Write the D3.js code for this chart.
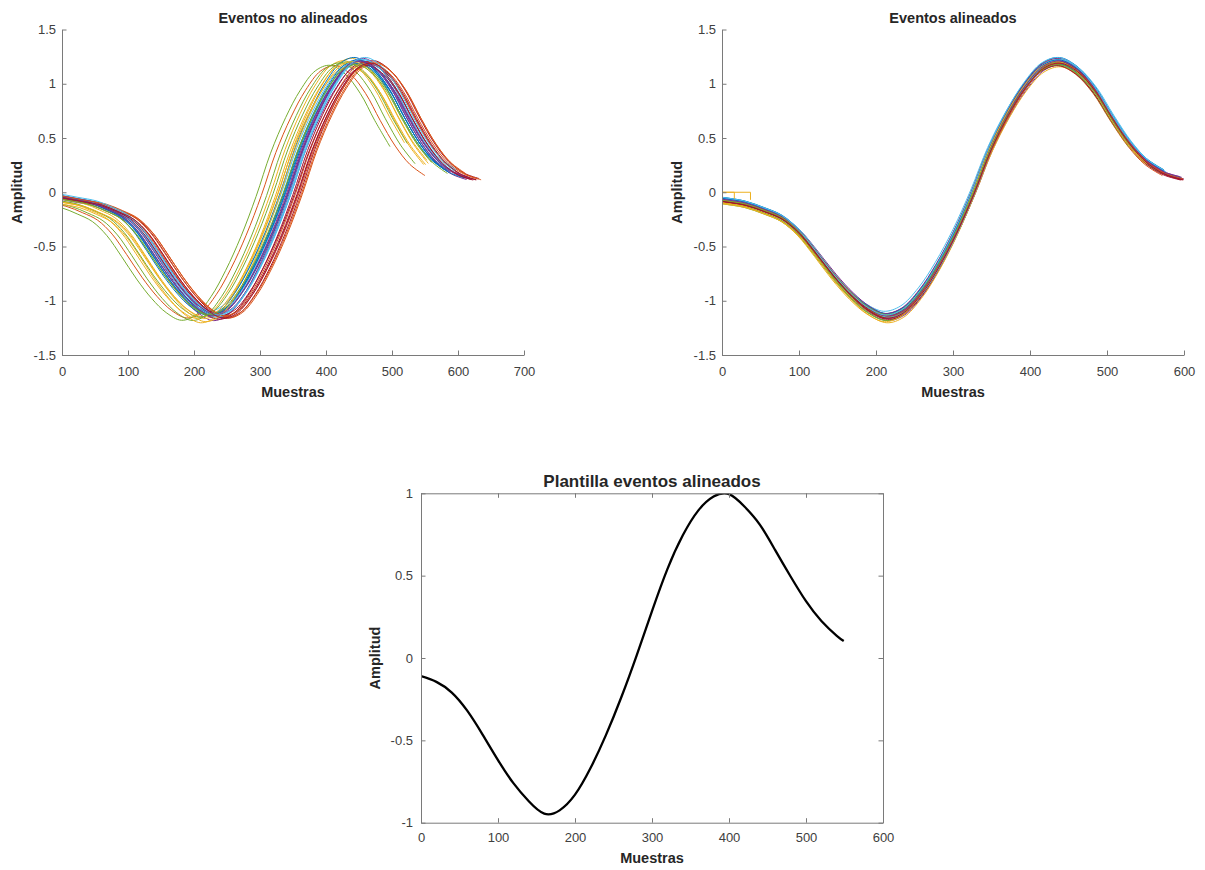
<!DOCTYPE html>
<html>
<head>
<meta charset="utf-8">
<script src="https://cdn.jsdelivr.net/npm/d3@7"></script>
<style>
  html, body { margin: 0; padding: 0; background: #fff; }
  svg { display: block; }
  .tick text { font-family: "Liberation Sans", Arial, sans-serif; font-size: 13px; fill: #404040; }
  .lbl { font-family: "Liberation Sans", Arial, sans-serif; font-weight: bold; fill: #262626; }
</style>
</head>
<body>
<svg id="fig" width="1205" height="870"></svg>
<script>
// ---------- DATA ----------
// Shape of an aligned event read from the "Eventos alineados" panel (samples, amplitude)
const baseX = [-120, -80, -40, 0, 30, 55, 78, 100, 122, 145, 168, 190, 213, 235, 258, 280, 303, 326, 348, 371, 393, 416, 438, 461, 484, 506, 529, 551, 574, 597];
const baseY = [0.02, 0.005, -0.03, -0.075, -0.11, -0.17, -0.24, -0.37, -0.56, -0.77, -0.95, -1.08, -1.15, -1.10, -0.93, -0.69, -0.38, -0.01, 0.39, 0.72, 0.97, 1.15, 1.20, 1.12, 0.94, 0.69, 0.45, 0.28, 0.175, 0.125];

// Per-event parameters read from the "Eventos no alineados" panel
const eventShift = [12, -24, -10, 16, -32, 8, 35, 18, 38, 2, 21, -16, 14, 30, 6, 28, 0, 19, 10, 22, 24, 13, 37, -3, 17, -6, 20, 26, 11, 33, 4, 15, 9, 23, 31];
const eventEnd   = [590, 574, 540, 597, 534, 585, 597, 580, 597, 570, 597, 560, 575, 597, 575, 580, 555, 597, 585, 590, 597, 597, 585, 565, 597, 550, 575, 597, 590, 597, 560, 590, 570, 585, 597];
const eventAmp   = [1.0, 0.99, 1.01, 1.02, 1.0, 0.98, 1.01, 0.99, 1.0, 1.02, 0.98, 1.01, 1.0, 0.99, 1.01, 1.0, 0.98, 1.02, 0.99, 1.0, 1.01, 0.98, 1.0, 1.02, 0.99, 1.0, 1.01, 0.98, 1.0, 0.99, 1.02, 1.0, 0.98, 1.01, 1.0];
const eventOff   = [0.01, -0.02, 0.0, -0.01, -0.03, 0.03, 0.0, 0.02, -0.01, 0.01, 0.0, -0.02, 0.02, -0.01, 0.03, 0.0, -0.02, 0.01, 0.0, 0.02, -0.01, 0.01, 0.0, -0.03, 0.02, 0.0, 0.01, -0.01, 0.02, 0.0, -0.02, 0.01, 0.0, 0.03, -0.01];
// Residual misalignment in the aligned panel (samples)
const alignJitter = [1, -2, 0, 2, -1, -3, 1, 0, 2, -1, 3, 0, -2, 1, 0, -1, 2, 0, -3, 1, 2, -1, 0, 1, -2, 0, 3, -1, 0, 2, -2, 1, 0, -1, 1];
// Zero-padded starts visible in the aligned panel
const padEvent = [2, 9];
const padLen   = [37, 16];
const padDrop  = [-0.07, -0.06];

// Template ("Plantilla eventos alineados")
const templX = [0, 20, 40, 60, 80, 100, 120, 140, 160, 180, 200, 220, 240, 260, 280, 300, 320, 340, 360, 380, 400, 420, 440, 460, 480, 500, 520, 540, 549];
const templY = [-0.11, -0.145, -0.21, -0.32, -0.465, -0.62, -0.76, -0.87, -0.945, -0.925, -0.83, -0.67, -0.47, -0.24, 0.015, 0.285, 0.54, 0.745, 0.895, 0.98, 0.995, 0.92, 0.81, 0.655, 0.495, 0.345, 0.225, 0.135, 0.103];

// Axis ticks
const xTicksA = [0, 100, 200, 300, 400, 500, 600, 700];
const xTicksB = [0, 100, 200, 300, 400, 500, 600];
const yTicksAB = [-1.5, -1, -0.5, 0, 0.5, 1, 1.5];
const yTicksC = [-1, -0.5, 0, 0.5, 1];

const colors = ["#0072BD", "#D95319", "#EDB120", "#7E2F8E", "#77AC30", "#4DBEEE", "#A2142F"];

// ---------- DRAW ----------
const svg = d3.select("#fig");
const AX = "#7a7a7a";
const fmt = d => String(d);

function styleAxis(g) {
  g.selectAll(".domain").attr("stroke", AX).attr("stroke-width", 1);
  g.selectAll(".tick line").attr("stroke", AX).attr("stroke-width", 1);
}

function panel(cfg) {
  const x = d3.scaleLinear().domain(cfg.xd).range(cfg.xr);
  const y = d3.scaleLinear().domain(cfg.yd).range(cfg.yr);
  const g = svg.append("g");
  const id = "clip" + cfg.id;
  svg.append("defs").append("clipPath").attr("id", id)
    .append("rect").attr("x", cfg.xr[0]).attr("y", cfg.yr[1])
    .attr("width", cfg.xr[1] - cfg.xr[0]).attr("height", cfg.yr[0] - cfg.yr[1]);
  const plot = g.append("g").attr("clip-path", `url(#${id})`);

  const tk = 4.5;
  const gx = g.append("g").attr("transform", `translate(0,${cfg.yr[0]})`)
    .call(d3.axisBottom(x).tickValues(cfg.xt).tickFormat(fmt).tickSizeInner(-tk).tickSizeOuter(0).tickPadding(cfg.xpad));
  const gy = g.append("g").attr("transform", `translate(${cfg.xr[0]},0)`)
    .call(d3.axisLeft(y).tickValues(cfg.yt).tickFormat(fmt).tickSizeInner(-tk).tickSizeOuter(0).tickPadding(cfg.ypad));
  styleAxis(gx); styleAxis(gy);
  if (cfg.box) {
    const gt = g.append("g").attr("transform", `translate(0,${cfg.yr[1]})`)
      .call(d3.axisTop(x).tickValues(cfg.xt).tickFormat("").tickSizeInner(-tk).tickSizeOuter(0));
    const gr = g.append("g").attr("transform", `translate(${cfg.xr[1]},0)`)
      .call(d3.axisRight(y).tickValues(cfg.yt).tickFormat("").tickSizeInner(-tk).tickSizeOuter(0));
    styleAxis(gt); styleAxis(gr);
  }
  const cx = (cfg.xr[0] + cfg.xr[1]) / 2, cy = (cfg.yr[0] + cfg.yr[1]) / 2;
  g.append("text").attr("class", "lbl").attr("x", cx).attr("y", cfg.titleY)
    .attr("text-anchor", "middle").style("font-size", cfg.titleSize + "px").text(cfg.title);
  g.append("text").attr("class", "lbl").attr("x", cx).attr("y", cfg.xlabY)
    .attr("text-anchor", "middle").style("font-size", "14.5px").text("Muestras");
  g.append("text").attr("class", "lbl")
    .attr("transform", `translate(${cfg.ylabX},${cy}) rotate(-90)`)
    .attr("text-anchor", "middle").style("font-size", "14.5px").text("Amplitud");
  return { x, y, plot };
}

function eventPoints(i, shift) {
  const pts = [];
  baseX.forEach((bx, k) => {
    if (bx <= eventEnd[i]) pts.push([bx + shift, eventAmp[i] * baseY[k] + eventOff[i]]);
  });
  return pts;
}

// Panel A: unaligned events
const A = panel({ id: "A", xd: [0, 700], xr: [62, 524], yd: [-1.5, 1.5], yr: [355, 29.5],
  xt: xTicksA, yt: yTicksAB, xpad: 12, ypad: 6, box: false,
  title: "Eventos no alineados", titleY: 22.5, titleSize: 14.5, xlabY: 397, ylabX: 22 });
const lineA = d3.line().x(d => A.x(d[0])).y(d => A.y(d[1])).curve(d3.curveCatmullRom.alpha(0.5));
eventShift.forEach((s, i) => {
  A.plot.append("path").attr("d", lineA(eventPoints(i, s)))
    .attr("fill", "none").attr("stroke", colors[i % colors.length]).attr("stroke-width", 1);
});

// Panel B: aligned events
const B = panel({ id: "B", xd: [0, 600], xr: [722, 1184], yd: [-1.5, 1.5], yr: [355, 29.5],
  xt: xTicksB, yt: yTicksAB, xpad: 12, ypad: 6, box: false,
  title: "Eventos alineados", titleY: 22.5, titleSize: 14.5, xlabY: 397, ylabX: 682 });
const lineB = d3.line().x(d => B.x(d[0])).y(d => B.y(d[1])).curve(d3.curveCatmullRom.alpha(0.5));
alignJitter.forEach((j, i) => {
  B.plot.append("path").attr("d", lineB(eventPoints(i, j)))
    .attr("fill", "none").attr("stroke", colors[i % colors.length]).attr("stroke-width", 1);
});
padEvent.forEach((e, k) => {
  const pts = [[0, 0], [padLen[k], 0], [padLen[k], padDrop[k]]];
  B.plot.append("path").attr("d", d3.line().x(d => B.x(d[0])).y(d => B.y(d[1]))(pts))
    .attr("fill", "none").attr("stroke", colors[e % colors.length]).attr("stroke-width", 1);
});

// Panel C: template
const C = panel({ id: "C", xd: [0, 600], xr: [421, 883], yd: [-1, 1], yr: [822.7, 493.3],
  xt: xTicksB, yt: yTicksC, xpad: 10, ypad: 8, box: true,
  title: "Plantilla eventos alineados", titleY: 487, titleSize: 17, xlabY: 863, ylabX: 380 });
const lineC = d3.line().x((d, k) => C.x(templX[k])).y((d, k) => C.y(templY[k])).curve(d3.curveNatural);
C.plot.append("path").attr("d", lineC(templX))
  .attr("fill", "none").attr("stroke", "#000").attr("stroke-width", 2.3);
</script>
</body>
</html>
